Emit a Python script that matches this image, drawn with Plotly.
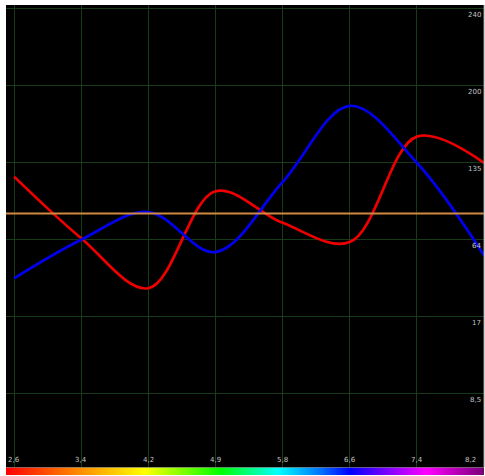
import plotly.graph_objects as go

# ---- data ----
x_labels = ["2,6", "3,4", "4,2", "4,9", "5,8", "6,6", "7,4", "8,2"]
red_values = [3.81, 3.01, 2.36, 3.62, 3.21, 2.96, 4.33, 3.99]
blue_values = [2.49, 2.99, 3.35, 2.83, 3.74, 4.73, 3.99, 2.79]
orange_level = 3.33
y_tick_levels = [1, 2, 3, 4, 5, 6]
y_tick_labels = ["8,5", "17", "64", "135", "200", "240"]

x_pos = list(range(len(x_labels)))

rainbow_stops = [
    [0.00, "#ff0000"], [0.14, "#ff8000"], [0.29, "#ffff00"],
    [0.45, "#00ff00"], [0.57, "#00ffff"], [0.66, "#0070ff"],
    [0.72, "#0000ff"], [0.80, "#8000ff"], [0.88, "#ff00ff"],
    [1.00, "#7a0078"],
]
rainbow_n = 200

fig = go.Figure()

fig.add_trace(go.Scatter(
    x=x_pos, y=red_values, mode="lines",
    line=dict(color="#ee0000", width=2.7, shape="spline", smoothing=1.0),
    showlegend=False, hoverinfo="skip"))
fig.add_trace(go.Scatter(
    x=x_pos, y=blue_values, mode="lines",
    line=dict(color="#0000ee", width=2.7, shape="spline", smoothing=1.0),
    showlegend=False, hoverinfo="skip"))
fig.add_trace(go.Scatter(
    x=[-0.2, len(x_labels)], y=[orange_level, orange_level], mode="lines",
    line=dict(color="#d08a40", width=2),
    showlegend=False, hoverinfo="skip"))

# rainbow bar at the bottom
fig.add_trace(go.Heatmap(
    z=[list(range(rainbow_n))],
    x=[i / (rainbow_n - 1) for i in range(rainbow_n)],
    colorscale=rainbow_stops, showscale=False, hoverinfo="skip",
    xaxis="x2", yaxis="y2"))

grid_col = "#173a17"
fig.update_layout(
    width=485, height=476,
    margin=dict(l=6, r=1, t=5, b=1),
    paper_bgcolor="white", plot_bgcolor="black",
    xaxis=dict(range=[-0.12, 7.0], tickvals=x_pos, showticklabels=False,
               showgrid=True, gridcolor=grid_col, gridwidth=1,
               zeroline=False, showline=False, ticks=""),
    yaxis=dict(domain=[0.017, 1], range=[0.039, 6.039],
               tickvals=y_tick_levels, showticklabels=False,
               showgrid=True, gridcolor=grid_col, gridwidth=1,
               zeroline=False, showline=False, ticks=""),
    xaxis2=dict(range=[0, 1], visible=False, anchor="y2"),
    yaxis2=dict(domain=[0, 0.016], range=[-0.5, 0.5], visible=False, anchor="x2"),
)

font = dict(family="DejaVu Sans", size=7, color="#c4c4c4")
for lvl, lab in zip(y_tick_levels, y_tick_labels):
    fig.add_annotation(x=1, xref="paper", xanchor="right", xshift=-1,
                       y=lvl, yref="y", yanchor="top", yshift=-1,
                       text=lab, showarrow=False, font=font)
for i, lab in enumerate(x_labels):
    last = i == len(x_labels) - 1
    fig.add_annotation(x=i, xref="x", xanchor="right" if last else "center",
                       xshift=-6 if last else 0,
                       y=0.039, yref="y", yanchor="bottom", yshift=1,
                       text=lab, showarrow=False, font=font)

# gray right border
fig.add_shape(type="line", xref="paper", yref="paper", x0=1, x1=1, y0=0.017, y1=1,
              line=dict(color="#999999", width=1))

fig.write_html("out.html", config={"displayModeBar": False},
               post_script="document.body.style.margin='0';document.body.style.overflow='hidden';")
